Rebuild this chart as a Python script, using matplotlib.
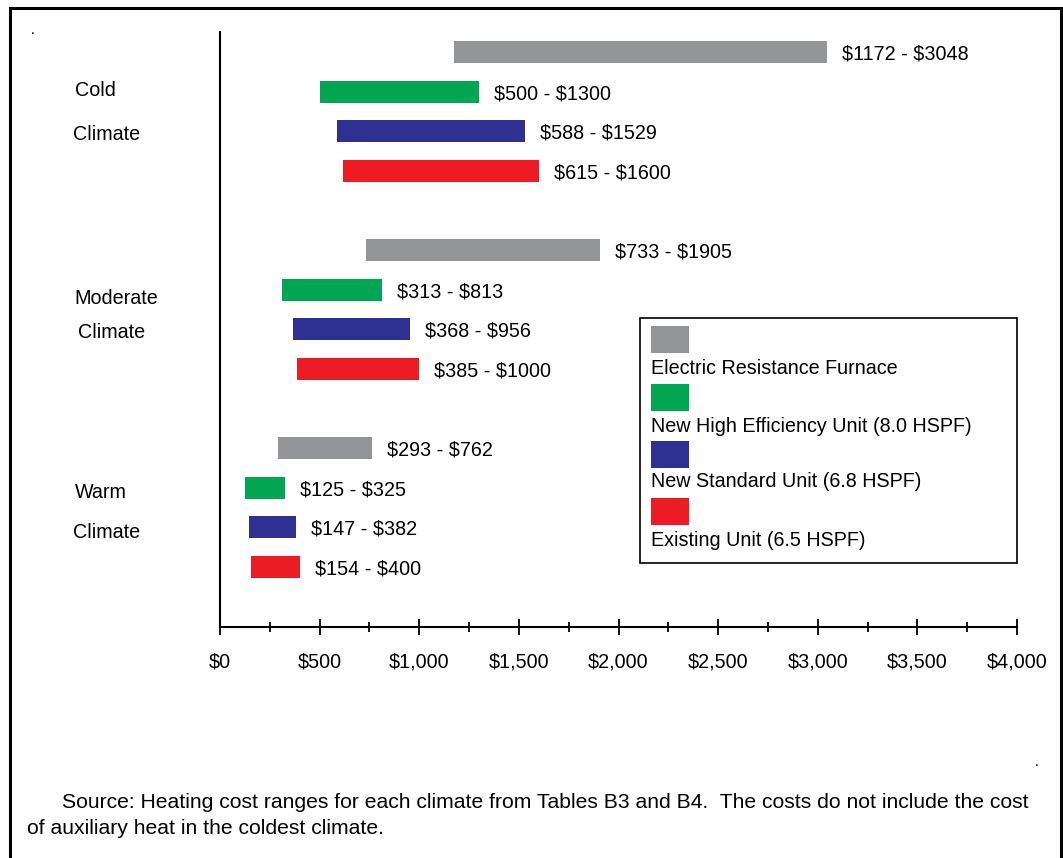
import matplotlib
matplotlib.use("Agg")
import matplotlib.pyplot as plt
from matplotlib.patches import Rectangle
from matplotlib.ticker import MultipleLocator, FuncFormatter

plt.rcParams['font.family'] = ['Liberation Sans', 'DejaVu Sans']
plt.rcParams['text.parse_math'] = False

# ---- data ----
climates = ["Cold", "Moderate", "Warm"]
series = ["Electric Resistance Furnace", "New High Efficiency Unit (8.0 HSPF)",
          "New Standard Unit (6.8 HSPF)", "Existing Unit (6.5 HSPF)"]
colors = ["#939598", "#00A651", "#2E3192", "#ED1C24"]
low_gray = [1172, 733, 293]
high_gray = [3048, 1905, 762]
low_green = [500, 313, 125]
high_green = [1300, 813, 325]
low_blue = [588, 368, 147]
high_blue = [1529, 956, 382]
low_red = [615, 385, 154]
high_red = [1600, 1000, 400]
xticks = [0, 500, 1000, 1500, 2000, 2500, 3000, 3500, 4000]
caption1 = "Source: Heating cost ranges for each climate from Tables B3 and B4.  The costs do not include the cost"
caption2 = "of auxiliary heat in the coldest climate."

lows = [low_gray, low_green, low_blue, low_red]
highs = [high_gray, high_green, high_blue, high_red]

W, H = 1063, 858
fig = plt.figure(figsize=(W / 100, H / 100), dpi=100)

def fx(px):
    return px / W

def fy(py):
    return 1 - py / H

FS = 14.2
DY = 2  # text vertical nudge (px)

ax = fig.add_axes([fx(220), fy(627), fx(1017) - fx(220), fy(32) - fy(627)])
ax.set_xlim(0, 4000)
ax.set_ylim(14.515, -0.505)

bar_h = 0.56
for ci in range(len(climates)):
    for si in range(len(series)):
        slot = ci * 5 + si
        lo = lows[si][ci]
        hi = highs[si][ci]
        ax.barh(slot, hi - lo, left=lo, height=bar_h, color=colors[si], edgecolor='none')
        ax.annotate(f"${lo} - ${hi}", xy=(hi, slot), xytext=(15, -DY),
                    textcoords='offset pixels', va='center', ha='left', fontsize=FS)

for s in ['top', 'right']:
    ax.spines[s].set_visible(False)
ax.spines['left'].set_linewidth(1.5)
ax.spines['bottom'].set_linewidth(1.5)
ax.set_yticks([])
ax.set_xticks(xticks)
ax.xaxis.set_minor_locator(MultipleLocator(250))
ax.xaxis.set_major_formatter(FuncFormatter(lambda v, p: f"${int(v):,}"))
ax.tick_params(axis='x', which='major', direction='inout', length=12, width=1.3,
               pad=12.5, labelsize=FS)
ax.tick_params(axis='x', which='minor', direction='inout', length=7, width=1.3)

# climate labels
label_pos = [[(75, 89), (73, 133)], [(74, 297), (78, 331)], [(75, 490), (73, 530)]]
for ci, name in enumerate(climates):
    (x1, y1), (x2, y2) = label_pos[ci]
    fig.text(fx(x1), fy(y1 + DY), name, ha='left', va='center', fontsize=FS)
    fig.text(fx(x2), fy(y2 + DY), "Climate", ha='left', va='center', fontsize=FS)

# legend box
fig.patches.append(Rectangle((fx(640), fy(563)), fx(1017) - fx(640), fy(318) - fy(563),
                             transform=fig.transFigure, fill=False, edgecolor='black',
                             linewidth=1.2))
patch_tops = [326, 384, 441, 498]
text_ys = [367, 425, 480, 538]
for si, name in enumerate(series):
    t = patch_tops[si]
    fig.patches.append(Rectangle((fx(651), fy(t + 27)), fx(689) - fx(651), fy(t) - fy(t + 27),
                                 transform=fig.transFigure, facecolor=colors[si],
                                 edgecolor='none'))
    fig.text(fx(651), fy(text_ys[si] + DY), name, ha='left', va='center', fontsize=FS)

# caption
fig.text(fx(62), fy(800 + DY), caption1, ha='left', va='center', fontsize=15.2)
fig.text(fx(27), fy(827 + DY), caption2, ha='left', va='center', fontsize=15.2)

# stray dots
fig.text(fx(33), fy(30), ".", ha='center', va='center', fontsize=10)
fig.text(fx(1037), fy(762), ".", ha='center', va='center', fontsize=10)

# border
fig.patches.append(Rectangle((fx(9.5), fy(880)), fx(1061) - fx(9.5), fy(8) - fy(880),
                             transform=fig.transFigure, fill=False, edgecolor='black',
                             linewidth=2.2, clip_on=False))

fig.savefig("out.png", dpi=100)
